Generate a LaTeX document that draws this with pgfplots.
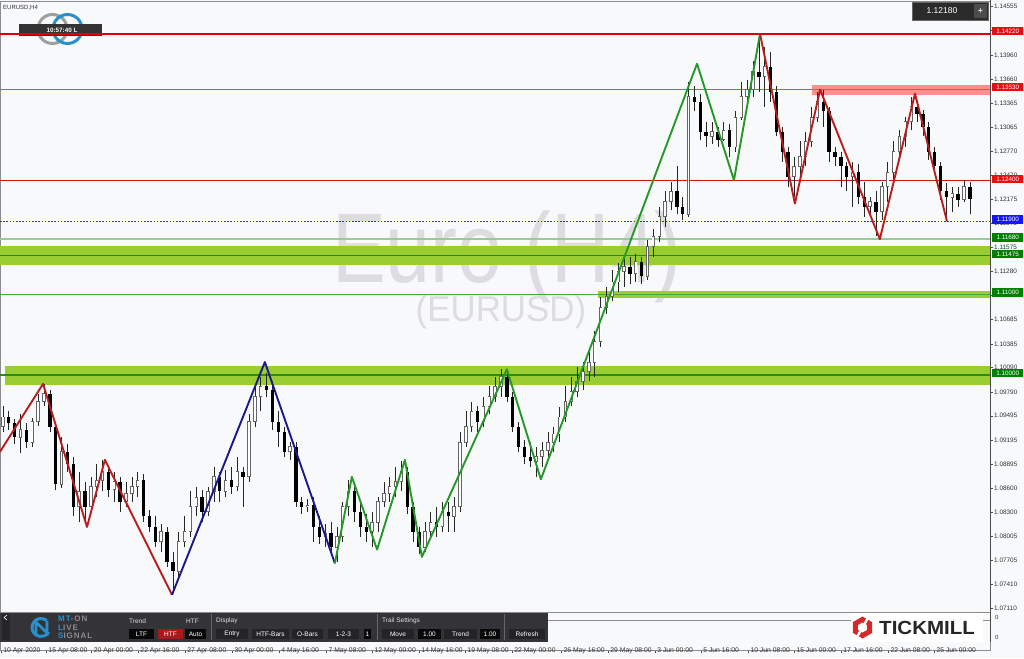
\documentclass[border=0pt]{standalone}
\usepackage{fontspec}
\setmainfont{Liberation Sans}
\usepackage{graphicx}
\usepackage{pgfplots}
\usepackage{pgfplotstable}
\pgfplotsset{compat=1.18}

\definecolor{bgc}{RGB}{248,249,251}
\definecolor{wm}{RGB}{221,221,223}
\definecolor{bandgreen}{RGB}{154,205,50}
\definecolor{linegreen}{RGB}{40,140,30}
\definecolor{midgreen}{RGB}{70,165,60}
\definecolor{lightgreen}{RGB}{150,205,150}
\definecolor{taggreen}{RGB}{0,128,0}
\definecolor{tagred}{RGB}{228,16,16}
\definecolor{tagblue}{RGB}{20,20,255}
\definecolor{lvlblue}{RGB}{50,50,235}
\definecolor{lvlred}{RGB}{245,70,70}
\definecolor{lvldark}{RGB}{210,20,20}
\definecolor{lvltop}{RGB}{220,0,0}
\definecolor{bandred}{RGB}{255,125,125}
\definecolor{zzred}{RGB}{185,30,30}
\definecolor{zzblue}{RGB}{25,25,140}
\definecolor{zzgreen}{RGB}{40,150,40}
\definecolor{panel}{RGB}{52,52,56}
\definecolor{btn}{RGB}{36,36,38}
\definecolor{btnblk}{RGB}{8,8,8}
\definecolor{btnred}{RGB}{170,25,25}
\definecolor{mtblue}{RGB}{40,145,205}
\definecolor{tmred}{RGB}{214,40,40}

% H4 candles, two bars per candle: bar index, open, high, low, close
\pgfplotstableread{
i o h l c
1 1.0936 1.0961 1.0930 1.0948
3 1.0948 1.0955 1.0932 1.0940
5 1.0940 1.0945 1.0915 1.0923
7 1.0923 1.0952 1.0903 1.0932
9 1.0932 1.0940 1.0910 1.0917
11 1.0917 1.0947 1.0911 1.0942
13 1.0942 1.0977 1.0937 1.0967
15 1.0967 1.0989 1.0962 1.0977
17 1.0977 1.0982 1.0930 1.0936
19 1.0936 1.0942 1.0858 1.0865
21 1.0865 1.0923 1.0860 1.0905
23 1.0905 1.0915 1.0880 1.0890
25 1.0890 1.0899 1.0825 1.0837
27 1.0837 1.0880 1.0818 1.0856
29 1.0856 1.0868 1.0816 1.0837
31 1.0837 1.0874 1.0831 1.0862
33 1.0862 1.0890 1.0849 1.0870
35 1.0870 1.0895 1.0856 1.0880
37 1.0880 1.0886 1.0849 1.0858
39 1.0858 1.0880 1.0843 1.0868
41 1.0868 1.0874 1.0831 1.0843
43 1.0843 1.0868 1.0837 1.0853
45 1.0853 1.0874 1.0843 1.0862
47 1.0862 1.0880 1.0849 1.0870
49 1.0870 1.0878 1.0818 1.0825
51 1.0825 1.0833 1.0806 1.0812
53 1.0812 1.0825 1.0787 1.0794
55 1.0794 1.0816 1.0781 1.0806
57 1.0806 1.0812 1.0763 1.0769
59 1.0769 1.0781 1.0734 1.0757
61 1.0757 1.0806 1.0750 1.0794
63 1.0794 1.0825 1.0787 1.0806
65 1.0806 1.0856 1.0800 1.0837
67 1.0837 1.0862 1.0825 1.0849
69 1.0849 1.0858 1.0818 1.0831
71 1.0831 1.0862 1.0825 1.0856
73 1.0856 1.0886 1.0843 1.0874
75 1.0874 1.0880 1.0843 1.0856
77 1.0856 1.0883 1.0849 1.0870
79 1.0870 1.0886 1.0853 1.0862
81 1.0862 1.0899 1.0856 1.0880
83 1.0880 1.0886 1.0837 1.0874
85 1.0874 1.0952 1.0868 1.0942
87 1.0942 1.0986 1.0936 1.0973
89 1.0973 1.0998 1.0955 1.0986
91 1.0986 1.1002 1.0973 1.0982
93 1.0982 1.0992 1.0932 1.0942
95 1.0942 1.0955 1.0911 1.0930
97 1.0930 1.0936 1.0899 1.0905
99 1.0905 1.0917 1.0895 1.0911
101 1.0911 1.0917 1.0837 1.0843
103 1.0843 1.0849 1.0828 1.0837
105 1.0837 1.0846 1.0831 1.0839
107 1.0839 1.0849 1.0794 1.0812
109 1.0812 1.0825 1.0791 1.0800
111 1.0800 1.0816 1.0787 1.0804
113 1.0804 1.0818 1.0781 1.0787
115 1.0787 1.0812 1.0769 1.0800
117 1.0800 1.0843 1.0794 1.0837
119 1.0837 1.0870 1.0825 1.0856
121 1.0856 1.0862 1.0818 1.0831
123 1.0831 1.0843 1.0800 1.0812
125 1.0812 1.0828 1.0794 1.0806
127 1.0806 1.0831 1.0787 1.0818
129 1.0818 1.0849 1.0806 1.0843
131 1.0843 1.0868 1.0837 1.0853
133 1.0853 1.0874 1.0843 1.0862
135 1.0862 1.0886 1.0849 1.0868
137 1.0868 1.0893 1.0856 1.0880
139 1.0880 1.0886 1.0828 1.0837
141 1.0837 1.0843 1.0794 1.0806
143 1.0806 1.0812 1.0779 1.0787
145 1.0787 1.0818 1.0781 1.0806
147 1.0806 1.0831 1.0800 1.0818
149 1.0818 1.0837 1.0800 1.0812
151 1.0812 1.0843 1.0806 1.0831
153 1.0831 1.0843 1.0806 1.0825
155 1.0825 1.0849 1.0806 1.0837
157 1.0837 1.0930 1.0831 1.0917
159 1.0917 1.0955 1.0911 1.0936
161 1.0936 1.0967 1.0930 1.0955
163 1.0955 1.0961 1.0930 1.0942
165 1.0942 1.0973 1.0936 1.0961
167 1.0961 1.0986 1.0952 1.0973
169 1.0973 1.0998 1.0967 1.0986
171 1.0986 1.1007 1.0973 1.0998
173 1.0998 1.1004 1.0967 1.0973
175 1.0973 1.0979 1.0930 1.0936
177 1.0936 1.0942 1.0905 1.0911
179 1.0911 1.0920 1.0890 1.0899
181 1.0899 1.0917 1.0886 1.0893
183 1.0893 1.0911 1.0874 1.0899
185 1.0899 1.0917 1.0886 1.0907
187 1.0907 1.0930 1.0899 1.0917
189 1.0917 1.0936 1.0905 1.0927
191 1.0927 1.0961 1.0917 1.0948
193 1.0948 1.0986 1.0942 1.0967
195 1.0967 1.0998 1.0961 1.0979
197 1.0979 1.1010 1.0973 1.0992
199 1.0992 1.1016 1.0982 1.1004
201 1.1004 1.1029 1.0992 1.1016
203 1.1016 1.1054 1.0998 1.1041
205 1.1041 1.1097 1.1035 1.1084
207 1.1084 1.1109 1.1076 1.1097
209 1.1097 1.1130 1.1091 1.1115
211 1.1115 1.1138 1.1103 1.1128
213 1.1128 1.1143 1.1109 1.1134
215 1.1134 1.1146 1.1113 1.1125
217 1.1125 1.1150 1.1115 1.1140
219 1.1140 1.1146 1.1113 1.1122
221 1.1122 1.1167 1.1118 1.1159
223 1.1159 1.1180 1.1146 1.1171
225 1.1171 1.1208 1.1165 1.1196
227 1.1196 1.1227 1.1183 1.1214
229 1.1214 1.1239 1.1204 1.1227
231 1.1227 1.1258 1.1199 1.1208
233 1.1208 1.1220 1.1192 1.1199
235 1.1199 1.1363 1.1196 1.1344
237 1.1344 1.1357 1.1326 1.1338
239 1.1338 1.1348 1.1291 1.1301
241 1.1301 1.1313 1.1282 1.1295
243 1.1295 1.1313 1.1286 1.1301
245 1.1301 1.1307 1.1282 1.1291
247 1.1291 1.1313 1.1289 1.1303
249 1.1303 1.1311 1.1270 1.1282
251 1.1282 1.1326 1.1276 1.1319
253 1.1319 1.1363 1.1316 1.1344
255 1.1344 1.1365 1.1338 1.1353
257 1.1353 1.1388 1.1344 1.1375
259 1.1375 1.1422 1.1350 1.1369
261 1.1369 1.1406 1.1332 1.1381
263 1.1381 1.1400 1.1338 1.1350
265 1.1350 1.1357 1.1295 1.1301
267 1.1301 1.1307 1.1264 1.1276
269 1.1276 1.1282 1.1233 1.1245
271 1.1245 1.1270 1.1220 1.1258
273 1.1258 1.1289 1.1239 1.1270
275 1.1270 1.1301 1.1258 1.1289
277 1.1289 1.1332 1.1282 1.1319
279 1.1319 1.1350 1.1313 1.1338
281 1.1338 1.1353 1.1307 1.1326
283 1.1326 1.1332 1.1264 1.1276
285 1.1276 1.1282 1.1258 1.1270
287 1.1270 1.1276 1.1233 1.1258
289 1.1258 1.1264 1.1227 1.1245
291 1.1245 1.1264 1.1208 1.1251
293 1.1251 1.1261 1.1212 1.1220
295 1.1220 1.1239 1.1196 1.1208
297 1.1208 1.1220 1.1199 1.1214
299 1.1214 1.1227 1.1172 1.1202
301 1.1202 1.1239 1.1192 1.1233
303 1.1233 1.1264 1.1214 1.1251
305 1.1251 1.1289 1.1241 1.1276
307 1.1276 1.1303 1.1266 1.1295
309 1.1295 1.1319 1.1282 1.1313
311 1.1313 1.1344 1.1303 1.1332
313 1.1332 1.1340 1.1313 1.1323
315 1.1323 1.1328 1.1295 1.1307
317 1.1307 1.1313 1.1266 1.1276
319 1.1276 1.1282 1.1249 1.1258
321 1.1258 1.1264 1.1217 1.1227
323 1.1227 1.1237 1.1195 1.1220
325 1.1220 1.1233 1.1202 1.1224
327 1.1224 1.1233 1.1208 1.1217
329 1.1217 1.1241 1.1214 1.1233
331 1.1233 1.1239 1.1199 1.1218
}\candles

\newcommand{\ptag}[3]{\node[fill=#2, text=white, font=\fontsize{6.3}{6.3}\selectfont,
  inner sep=0pt, minimum height=8.5pt, minimum width=31pt, anchor=west] at (992,#1) {#3};}
\newcommand{\btn}[4]{\fill[#3] (#1,19) rectangle (#2,29.5);
  \node[text=white, font=\fontsize{6.5}{6.5}\selectfont, inner sep=0pt] at ({(#1+#2)/2},24.2) {#4};}
\newcommand{\blab}[2]{\node[text=black!12, font=\fontsize{6.5}{6.5}\selectfont, inner sep=0pt, anchor=west] at (#1,37) {#2};}

\begin{document}
\begin{tikzpicture}[x=1pt,y=1pt]
\path[use as bounding box] (0,0) rectangle (1024,658);
\fill[bgc] (0,0) rectangle (1024,658);

% watermark
\node[anchor=base, text=wm, inner sep=0pt, font=\fontsize{99}{99}\selectfont] at (507,375) {\scalebox{0.815}[1]{Euro (H4)}};
\node[anchor=base, text=wm, inner sep=0pt, font=\fontsize{36}{36}\selectfont] at (501,336) {\scalebox{0.97}[1]{(EURUSD)}};

% logo and clock box, top left
\draw[black!38, line width=3pt] (52.5,629) circle (14.5);
\draw[mtblue, line width=3pt] (67.5,629) circle (14.5);
\fill[black!80] (19,622) rectangle (102,634);
\node[text=white, font=\bfseries\fontsize{6.3}{6.3}\selectfont, inner sep=0pt] at (62,628) {10:57:40 L};
\node[anchor=west, text=black!80, inner sep=0pt, font=\fontsize{6}{6}\selectfont] at (3,650) {EURUSD,H4};

\begin{axis}[
  at={(0,56)}, anchor=south west, scale only axis,
  width=990pt, height=611pt,
  xmin=0, xmax=337.9, ymin=1.07059, ymax=1.14617,
  axis line style={draw=black!45, line width=0.8pt},
  xtick=\empty,
  ytick={1.07110,1.07410,1.07705,1.08005,1.08300,1.08600,1.08895,1.09195,1.09495,1.09790,1.10090,1.10385,1.10685,1.10980,1.11280,1.11575,1.11875,1.12175,1.12470,1.12770,1.13065,1.13365,1.13660,1.13960,1.14260,1.14555},
  yticklabels={1.07110,1.07410,1.07705,1.08005,1.08300,1.08600,1.08895,1.09195,1.09495,1.09790,1.10090,1.10385,1.10685,1.10980,1.11280,1.11575,1.11875,1.12175,1.12470,1.12770,1.13065,1.13365,1.13660,1.13960,1.14260,1.14555},
  ytick pos=right, yticklabel pos=right,
  tick align=outside, major tick length=3pt,
  tick style={draw=black!70, line width=0.5pt},
  yticklabel style={font=\fontsize{6.4}{6.4}\selectfont, text=black!80, inner sep=1pt},
]
% zones
\addplot[fill=bandgreen, draw=none, forget plot] coordinates {(1.7,1.10115) (337.9,1.10115) (337.9,1.09880) (1.7,1.09880)} -- cycle;
\addplot[fill=bandgreen, draw=none, forget plot] coordinates {(0,1.11599) (337.9,1.11599) (337.9,1.11364) (0,1.11364)} -- cycle;
\addplot[fill=bandgreen, draw=none, forget plot] coordinates {(204,1.11042) (337.9,1.11042) (337.9,1.10955) (204,1.10955)} -- cycle;
\addplot[fill=bandred, fill opacity=0.85, draw=none, forget plot] coordinates {(277.1,1.13590) (337.9,1.13590) (337.9,1.13467) (277.1,1.13467)} -- cycle;
% levels
\addplot[draw=linegreen, line width=1.2pt, forget plot] coordinates {(0,1.10000) (337.9,1.10000)};
\addplot[draw=linegreen, line width=1.2pt, forget plot] coordinates {(0,1.11475) (337.9,1.11475)};
\addplot[draw=midgreen, line width=0.9pt, forget plot] coordinates {(0,1.11000) (337.9,1.11000)};
\addplot[draw=lightgreen, line width=1.6pt, forget plot] coordinates {(0,1.11680) (337.9,1.11680)};
\addplot[draw=lvlblue, line width=0.9pt, dash pattern=on 1.6pt off 1.6pt, forget plot] coordinates {(0,1.11900) (337.9,1.11900)};
\addplot[draw=lvldark, line width=1pt, forget plot] coordinates {(0,1.12400) (337.9,1.12400)};
\addplot[draw=lvlred, line width=1.1pt, forget plot] coordinates {(0,1.13530) (337.9,1.13530)};
\addplot[draw=lvltop, line width=1.5pt, forget plot] coordinates {(0,1.14220) (337.9,1.14220)};

% wicks
\addplot[draw=none, mark=none, forget plot,
  error bars/.cd, y dir=plus, y explicit, error mark=none,
  error bar style={draw=black!85, line width=0.6pt}]
  table[x=i, y=l, y error expr=\thisrow{h}-\thisrow{l}] {\candles};
% rising bodies: grey outline, white inside
\addplot[draw=none, mark=none, forget plot,
  error bars/.cd, y dir=plus, y explicit, error mark=none,
  error bar style={draw=black!60, line width=3.4pt}]
  table[x=i, y expr={\thisrow{c}>=\thisrow{o} ? \thisrow{o}-0.00006 : nan},
        y error expr={\thisrow{c}-\thisrow{o}+0.00012}] {\candles};
\addplot[draw=none, mark=none, forget plot,
  error bars/.cd, y dir=plus, y explicit, error mark=none,
  error bar style={draw=white, line width=1.9pt}]
  table[x=i, y expr={\thisrow{c}>=\thisrow{o} ? \thisrow{o}+0.00006 : nan},
        y error expr={max(\thisrow{c}-\thisrow{o}-0.00012,0)}] {\candles};
% falling bodies
\addplot[draw=none, mark=none, forget plot,
  error bars/.cd, y dir=plus, y explicit, error mark=none,
  error bar style={draw=black, line width=3.4pt}]
  table[x=i, y expr={\thisrow{c}<\thisrow{o} ? \thisrow{c} : nan},
        y error expr={max(\thisrow{o}-\thisrow{c},0.00008)}] {\candles};

% zigzag swings
\addplot[draw=zzred, line width=1.9pt, line join=round, forget plot] coordinates {(0,1.0905) (14.7,1.0989) (29.7,1.0812) (35.8,1.0895) (58.7,1.0728)};
\addplot[draw=zzblue, line width=1.9pt, line join=round, forget plot] coordinates {(58.7,1.0728) (90.4,1.1016) (114.3,1.0767)};
\addplot[draw=zzgreen, line width=1.9pt, line join=round, forget plot] coordinates {(114.3,1.0767) (120.1,1.0874) (128.7,1.0784) (138.2,1.0895) (144.0,1.0775) (173.0,1.1007) (184.6,1.0871) (237.9,1.1385) (250.5,1.1241) (259.4,1.1422)};
\addplot[draw=zzred, line width=1.9pt, line join=round, forget plot] coordinates {(259.4,1.1422) (271.3,1.1212) (279.9,1.1353) (300.3,1.1168) (312.3,1.1348) (323.2,1.1190)};
\end{axis}

% indicator sub-window with the date axis
\begin{axis}[
  at={(0,25)}, anchor=south west, scale only axis,
  width=990pt, height=30pt,
  xmin=0, xmax=337.9, ymin=0, ymax=1,
  axis line style={draw=black!45, line width=0.8pt},
  ytick=\empty,
  xtick={0.3,15.7,31.2,47.1,63.1,79.2,95.2,111.3,127,143,158.7,174.7,191.5,207.5,223.5,239.2,255.3,271,287,303.1,318.8},
  xticklabels={10 Apr 2020,15 Apr 08:00,20 Apr 00:00,22 Apr 16:00,27 Apr 08:00,30 Apr 00:00,4 May 16:00,7 May 08:00,12 May 00:00,14 May 16:00,19 May 08:00,22 May 00:00,26 May 16:00,29 May 08:00,3 Jun 00:00,5 Jun 16:00,10 Jun 08:00,15 Jun 00:00,17 Jun 16:00,22 Jun 08:00,25 Jun 00:00},
  xtick pos=bottom, tick align=outside, major tick length=2.5pt,
  tick style={draw=black!70, line width=0.5pt},
  xticklabel style={anchor=north west, font=\fontsize{6.8}{6.8}\selectfont, text=black!80, inner sep=0.5pt, xshift=1.8pt, yshift=6pt},
]
\end{axis}
\draw[black!70, line width=0.8pt] (990,47) -- (990,658);
\draw[black!70, line width=0.8pt] (990,16) -- (990,46);

% price labels on the scale
\ptag{626.8}{tagred}{1.14220}
\ptag{571}{tagred}{1.13530}
\ptag{478.8}{tagred}{1.12400}
\ptag{438.4}{tagblue}{1.11900}
\ptag{420.6}{taggreen}{1.11680}
\ptag{404}{taggreen}{1.11475}
\ptag{365.6}{taggreen}{1.11000}
\ptag{284.8}{taggreen}{1.10000}
\node[anchor=west, text=black!80, inner sep=0pt, font=\fontsize{6}{6}\selectfont] at (995,41) {0};
\node[anchor=west, text=black!80, inner sep=0pt, font=\fontsize{6}{6}\selectfont] at (995,21) {0};

% current price box, top right
\fill[black!83] (912,638) rectangle (988,656);
\draw[black!60, line width=0.6pt] (912,638) rectangle (988,656);
\node[text=white, font=\fontsize{8.5}{8.5}\selectfont, inner sep=0pt] at (942,647) {1.12180};
\fill[black!70] (974,640) rectangle (987,654);
\node[text=white, font=\bfseries\fontsize{8}{8}\selectfont, inner sep=0pt] at (980.5,647) {+};

% MT-ON toolbar
\fill[panel] (0,16) rectangle (548,45.5);
\fill[black!85] (2,18) rectangle (10,44);
\draw[white, line width=0.6pt] (7,43) -- (4,40.5) -- (7,38);
\draw[mtblue, line width=3pt] (41,30.5) ++(50:9) arc (50:330:9);
\draw[mtblue, line width=2.6pt] (36,24) -- (36,36) -- (47,25) -- (47,37);
\node[anchor=west, inner sep=0pt, font=\bfseries\fontsize{8}{8}\selectfont\addfontfeature{LetterSpace=12}] at (58,38.8) {\textcolor{mtblue}{MT}\textcolor{black!45}{-ON}};
\node[anchor=west, inner sep=0pt, font=\bfseries\fontsize{8}{8}\selectfont\addfontfeature{LetterSpace=12}] at (58,30.5) {\textcolor{mtblue}{L}\textcolor{black!45}{IVE}};
\node[anchor=west, inner sep=0pt, font=\bfseries\fontsize{8}{8}\selectfont\addfontfeature{LetterSpace=12}] at (58,22.2) {\textcolor{mtblue}{S}\textcolor{black!45}{IGNAL}};
\blab{129}{Trend}
\blab{186}{HTF}
\blab{216}{Display}
\blab{382}{Trail Settings}
\btn{129}{154}{btnblk}{LTF}
\btn{158}{183}{btnred}{HTF}
\btn{185}{206}{btnblk}{Auto}
\btn{216}{248}{btn}{Entry}
\btn{252}{289}{btn}{HTF-Bars}
\btn{292}{323}{btn}{O-Bars}
\btn{328}{359}{btn}{1-2-3}
\btn{364}{371}{btnblk}{1}
\btn{382}{414}{btn}{Move}
\btn{418}{441}{btnblk}{1.00}
\btn{444}{477}{btn}{Trend}
\btn{480}{500}{btnblk}{1.00}
\btn{509}{545}{btn}{Refresh}
\draw[black!60, line width=0.6pt] (211,18) -- (211,44);
\draw[black!60, line width=0.6pt] (377,18) -- (377,44);
\draw[black!60, line width=0.6pt] (504,18) -- (504,44);

% Tickmill logo
\fill[white] (851,16.5) rectangle (983,45.5);
\fill[tmred] (862.5,30.5) ++(90:11) -- ++(210:11) -- ++(270:11) -- ++(330:11) -- ++(30:11) -- ++(90:11) -- cycle;
\fill[white] (862.5,30.5) ++(90:5) -- ++(210:5) -- ++(270:5) -- ++(330:5) -- ++(30:5) -- ++(90:5) -- cycle;
\draw[white, line width=2.4pt] (862.5,30.5) ++(60:3) -- ++(60:10);
\draw[white, line width=2.4pt] (862.5,30.5) ++(240:3) -- ++(240:10);
\node[anchor=base west, text=black!85, inner sep=0pt, font=\bfseries\fontsize{19}{19}\selectfont] at (879,24) {\scalebox{1.08}[1]{TICKMILL}};
\end{tikzpicture}
\end{document}
